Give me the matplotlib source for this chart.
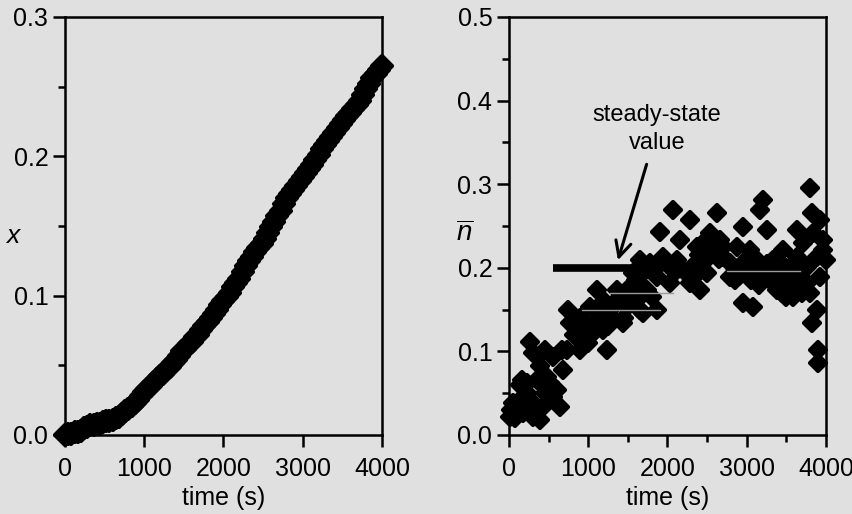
import numpy as np
import matplotlib
matplotlib.use("Agg")
import matplotlib.pyplot as plt
from matplotlib.markers import MarkerStyle

# left panel: conversion x vs time
t_left = list(range(0, 4001, 40))
x_left = [0.000, 0.001, 0.001, 0.002, 0.002, 0.003, 0.005, 0.006, 0.007, 0.007,
          0.008, 0.008, 0.009, 0.010, 0.010, 0.011, 0.012, 0.013, 0.015, 0.017,
          0.019, 0.021, 0.023, 0.025, 0.028, 0.031, 0.033, 0.035, 0.038, 0.040,
          0.042, 0.044, 0.047, 0.049, 0.052, 0.054, 0.057, 0.060, 0.062, 0.065,
          0.067, 0.070, 0.072, 0.075, 0.078, 0.081, 0.084, 0.087, 0.090, 0.093,
          0.096, 0.099, 0.102, 0.106, 0.109, 0.112, 0.117, 0.121, 0.125, 0.128,
          0.131, 0.134, 0.137, 0.141, 0.145, 0.149, 0.153, 0.157, 0.161, 0.166,
          0.170, 0.173, 0.176, 0.179, 0.182, 0.185, 0.188, 0.191, 0.194, 0.197,
          0.201, 0.205, 0.208, 0.211, 0.214, 0.217, 0.220, 0.223, 0.226, 0.229,
          0.231, 0.234, 0.237, 0.240, 0.244, 0.248, 0.252, 0.256, 0.259, 0.262,
          0.265]

# right panel: n-bar vs time (scattered points)
t_right = [13, 50, 180, 300, 390, 430, 265, 300, 455, 555, 390, 165, 227, 353, 480,
           518, 605, 644, 555, 177, 300, 101, 455, 683, 670, 20, 80, 140, 230, 350,
           745, 770, 730, 858, 896, 985, 1022, 1110, 1060, 1186, 1237, 1148, 1312, 1363,
           1439, 1489, 1527, 1565, 1615, 1691, 1653, 1780, 1742, 1868, 1868, 1906, 1943,
           2032, 2070, 2120, 2158, 2196, 2284, 2284, 2410, 2372, 2448, 2499, 2537, 2625,
           2663, 2701, 2789, 2789, 2877, 2953, 2953, 3079, 3130, 3041, 3205, 3168, 3256,
           3256, 3332, 3382, 3458, 3458, 3546, 3584, 3634, 3634, 3710, 3799, 3824, 3761,
           3761, 3799, 3887, 3824, 3900, 3900, 3925, 3963, 4000, 3925, 3887, 3963, 3837,
           820, 900, 950, 1100, 1200, 1250, 1400, 1450, 1550, 1600, 1700, 1800, 1850,
           2000, 2100, 2300, 2350, 2500, 2550, 2600, 2650, 2700, 2850, 2900, 3000, 3050,
           3100, 3150, 3200, 3250, 3300, 3350, 3400, 3450, 3500, 3550, 3600, 3650, 3700,
           3700, 3600, 3500, 2850, 3000, 3150, 3300, 3450, 1300, 1000, 1650, 2400]
n_right = [0.022, 0.038, 0.026, 0.022, 0.018, 0.034, 0.111, 0.098, 0.102, 0.093, 0.082, 0.066, 0.062, 0.066, 0.069,
           0.062, 0.054, 0.034, 0.045, 0.045, 0.038, 0.030, 0.050, 0.078, 0.102, 0.030, 0.020, 0.060, 0.050, 0.030,
           0.150, 0.134, 0.102, 0.118, 0.102, 0.129, 0.153, 0.173, 0.122, 0.126, 0.102, 0.146, 0.153, 0.173,
           0.134, 0.153, 0.177, 0.194, 0.161, 0.146, 0.209, 0.206, 0.173, 0.150, 0.189, 0.243, 0.213,
           0.182, 0.269, 0.209, 0.233, 0.197, 0.257, 0.182, 0.173, 0.225, 0.206, 0.194, 0.242, 0.266,
           0.233, 0.213, 0.206, 0.189, 0.225, 0.249, 0.158, 0.153, 0.209, 0.221, 0.281, 0.269, 0.245,
           0.194, 0.209, 0.173, 0.221, 0.182, 0.189, 0.165, 0.213, 0.245, 0.230, 0.295, 0.266, 0.201,
           0.182, 0.170, 0.150, 0.134, 0.102, 0.086, 0.257, 0.233, 0.209, 0.189, 0.213, 0.221, 0.242,
           0.120, 0.140, 0.115, 0.135, 0.160, 0.130, 0.165, 0.140, 0.170, 0.185, 0.195, 0.165, 0.200,
           0.205, 0.195, 0.200, 0.190, 0.235, 0.220, 0.230, 0.210, 0.225, 0.200, 0.190, 0.200, 0.185,
           0.195, 0.200, 0.190, 0.205, 0.185, 0.195, 0.200, 0.190, 0.200, 0.175, 0.190, 0.180, 0.170,
           0.200, 0.205, 0.165, 0.185, 0.210, 0.180, 0.200, 0.170, 0.140, 0.110, 0.150, 0.215]

# steady-state bar and the thin average lines
steady_t = [550, 1550]
steady_n = 0.2
avg_lines = [(920, 1900, 0.150), (1275, 2070, 0.170), (2750, 3670, 0.196)]

bg = "#e0e0e0"
plt.rcParams["font.family"] = ["Liberation Sans", "DejaVu Sans"]
plt.rcParams["mathtext.fontset"] = "custom"
plt.rcParams["mathtext.it"] = "Liberation Sans:italic"
plt.rcParams["mathtext.rm"] = "Liberation Sans"

fig = plt.figure(figsize=(8.53, 5.14), dpi=100, facecolor=bg)
ax1 = fig.add_axes([0.0762, 0.1537, 0.3716, 0.8133], facecolor=bg)
ax2 = fig.add_axes([0.5967, 0.1537, 0.3716, 0.8133], facecolor=bg)

diamond = MarkerStyle("D", joinstyle="round")


def style(ax, ymax, xminor):
    ax.set_xlim(0, 4000)
    ax.set_ylim(0, ymax)
    for s in ax.spines.values():
        s.set_linewidth(1.8)
    ax.set_xticks([0, 1000, 2000, 3000, 4000])
    if xminor:
        ax.set_xticks(np.arange(500, 4000, 1000), minor=True)
    ax.set_yticks(np.arange(0.05, ymax, 0.1), minor=True)
    ax.tick_params(which="both", direction="out", width=1.8, labelsize=18,
                   top=False, right=False)
    ax.tick_params(which="major", length=8.5)
    ax.tick_params(which="minor", length=5)
    ax.tick_params(axis="x", pad=7)
    ax.set_xlabel("time (s)", fontsize=18, labelpad=4)


ax1.plot(t_left, x_left, linestyle="none", marker=diamond, markersize=10,
         markeredgewidth=3, color="black", clip_on=False)
style(ax1, 0.3, False)
ax1.set_yticks([0.0, 0.1, 0.2, 0.3])
ax1.set_yticklabels(["0.0", "0.1", "0.2", "0.3"])
ax1.set_ylabel("x", fontsize=19, style="italic", rotation=0)
ax1.yaxis.set_label_coords(-0.165, 0.448)

ax2.plot(steady_t, [steady_n, steady_n], color="black", linewidth=5.5,
         solid_capstyle="butt")
ax2.plot(t_right, n_right, linestyle="none", marker=diamond, markersize=8.5,
         markeredgewidth=3, color="black", clip_on=False)
for a, b, v in avg_lines:
    ax2.plot([a, b], [v, v], color="#9a9a9a", linewidth=1)
style(ax2, 0.5, True)
ax2.set_yticks([0.0, 0.1, 0.2, 0.3, 0.4, 0.5])
ax2.set_yticklabels(["0.0", "0.1", "0.2", "0.3", "0.4", "0.5"])
ax2.set_ylabel(r"$\overline{n}$", fontsize=20, rotation=0)
ax2.yaxis.set_label_coords(-0.14, 0.45)

ax2.annotate("steady-state\nvalue", xy=(1375, 0.209), xytext=(1870, 0.366),
             ha="center", va="center", fontsize=17, linespacing=1.3,
             arrowprops=dict(arrowstyle="->", color="black", lw=2.2,
                             mutation_scale=28, shrinkA=6, shrinkB=0))

fig.savefig("out.png", dpi=100, facecolor=bg)
